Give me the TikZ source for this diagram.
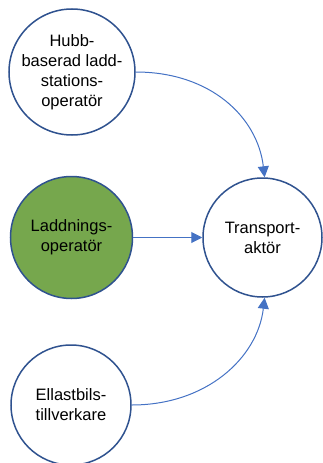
\documentclass[tikz,border=0pt]{standalone}
\usepackage{fontspec}
\setmainfont{Liberation Sans}
\usetikzlibrary{arrows.meta}
\definecolor{ringblue}{RGB}{47,82,143}
\definecolor{linkblue}{RGB}{68,114,196}
\definecolor{leafgreen}{RGB}{118,167,77}
\begin{document}
\begin{tikzpicture}[x=1pt,y=-1pt,
  actor/.style={circle,draw=ringblue,line width=1.5pt,fill=white,
    minimum size=#1,inner sep=0pt,align=center,
    font=\fontsize{16.5}{20}\selectfont},
  actor/.default=122pt,
  link/.style={draw=linkblue,line width=1pt,
    -{Triangle[length=11pt,width=11pt]}}]
\useasboundingbox (0,0) rectangle (322,463);
\node[actor] (hub) at (72,72) {Hubb-\\baserad ladd-\\stations-\\operatör};
\node[actor,fill=leafgreen] (ladd) at (71.5,237.5) {Laddnings-\\operatör};
\node[actor=119pt] (trans) at (262.5,237.5) {Transport-\\aktör};
\node[actor=120pt] (ell) at (71,405) {Ellastbils-\\tillverkare};
\draw[link] (hub.east) .. controls +(75,0) and +(-7,-60) .. (trans.88);
\draw[link] (ladd.east) -- (trans.west);
\draw[link] (ell.east) .. controls +(75,0) and +(-7,60) .. (trans.-88);
\end{tikzpicture}
\end{document}
